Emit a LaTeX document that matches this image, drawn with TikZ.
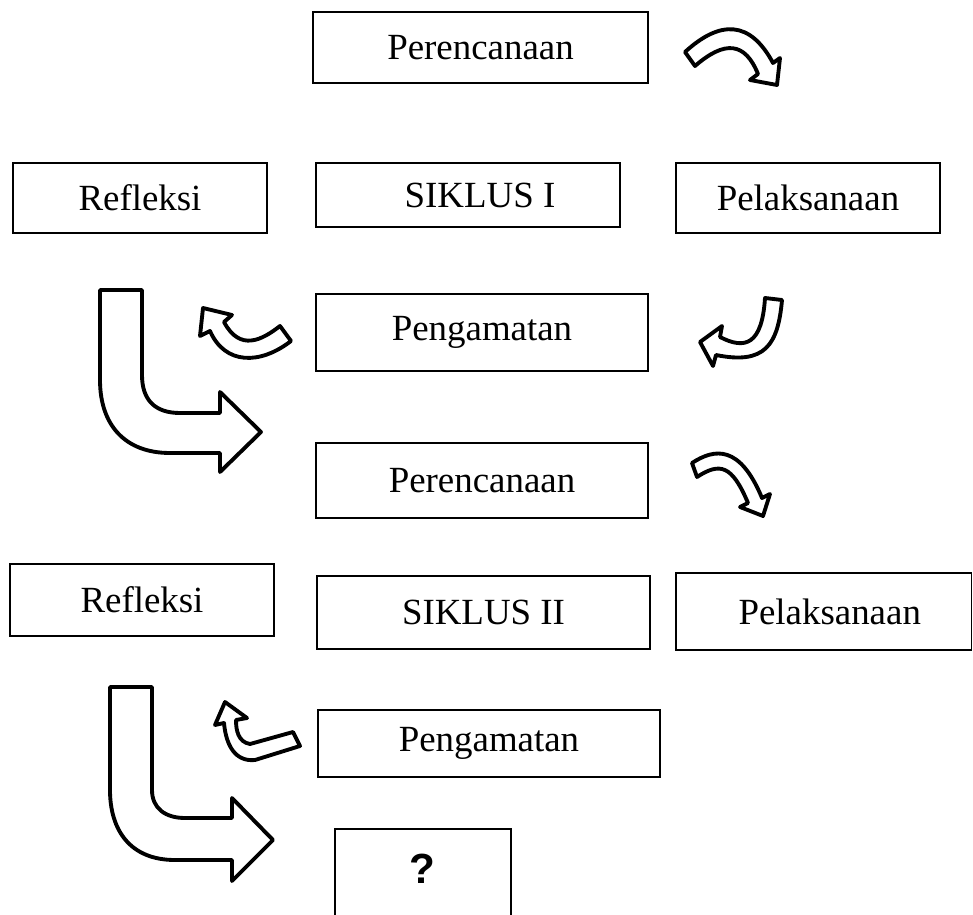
\documentclass[tikz,border=0pt]{standalone}
\usepackage{fontspec}
\setmainfont{Liberation Serif}
\setsansfont{Liberation Sans}
\usepackage{tikz}
\usetikzlibrary{positioning}

\tikzset{
  kotak/.style={draw, line width=1.1pt, inner sep=0pt, font=\fontsize{21}{25}\selectfont},
  panah/.style={draw, line width=2.2pt, fill=white, line join=round},
}

\begin{document}
\begin{tikzpicture}[x=0.02cm, y=-0.02cm]
    \clip (0,0) rectangle (973,915);
    \fill[white] (0,0) rectangle (973,915);
    % siklus I
    \node[kotak, minimum width=6.70cm, minimum height=1.42cm] (per1) at (480.5,47.5) {Perencanaan};
    \node[kotak, minimum width=5.08cm, minimum height=1.40cm] (ref1) at (140,198) {Refleksi};
    \node[kotak, minimum width=6.08cm, minimum height=1.28cm] (sik1) at (468,195) {\hspace{0.48cm}SIKLUS I};
    \node[kotak, minimum width=5.28cm, minimum height=1.40cm] (pel1) at (808,198) {Pelaksanaan};
    \node[kotak, minimum width=6.64cm, minimum height=1.54cm] (pen1) at (482,332.5) {Pengamatan};
    % siklus II
    \node[kotak, minimum width=6.64cm, minimum height=1.50cm] (per2) at (482,480.5) {Perencanaan};
    \node[kotak, minimum width=5.28cm, minimum height=1.44cm] (ref2) at (142,600) {Refleksi};
    \node[kotak, minimum width=6.66cm, minimum height=1.46cm] (sik2) at (483.5,612.5) {SIKLUS II};
    \node[kotak, minimum width=5.91cm, minimum height=1.54cm] (pel2) at (823.75,611.5) {\hspace{0.24cm}Pelaksanaan};
    \node[kotak, minimum width=6.84cm, minimum height=1.34cm] (pen2) at (489,743.5) {Pengamatan};
    \draw[line width=1.1pt] (335,960) -- (335,829) -- (511,829) -- (511,960);
    \node[font=\fontsize{24}{28}\sffamily\bfseries] (tanya) at (422,869) {?};

    % panah kecil
    \draw[panah] (685,52) .. controls (720,20) and (750,20) .. (773,63) -- (780,58) -- (777,85)
        -- (750,80) -- (758,74) .. controls (745,42) and (725,40) .. (695,66) -- cycle;
    \draw[panah] (280,326) .. controls (262,340) and (240,352) .. (224,322) -- (232,315) -- (203,308)
        -- (200,336) -- (210,331) .. controls (225,365) and (260,365) .. (291,341) -- cycle;
    \draw[panah] (765,298) -- (782,300) .. controls (778,345) and (765,365) .. (716,355) -- (713,366)
        -- (700,342) -- (722,326) -- (720,337) .. controls (745,350) and (762,345) .. cycle;
    \draw[panah] (692,463) .. controls (715,448) and (740,445) .. (762,498) -- (770,494) -- (763,516)
        -- (740,507) -- (748,503) .. controls (732,465) and (720,462) .. (697,477) -- cycle;
    \draw[panah] (293,732) -- (250,744) .. controls (238,742) and (236,730) .. (236,720) -- (247,718)
        -- (225,702) -- (215,725) -- (224,723) .. controls (226,745) and (235,762) .. (255,760)
        -- (300,746) -- cycle;

    % panah besar
    \draw[panah] (100,290) -- (142,290) -- (142,375) .. controls (142,400) and (155,413) .. (180,413)
        -- (220,413) -- (220,392) -- (261,432) -- (220,472) -- (220,453) -- (170,453)
        .. controls (125,453) and (100,425) .. (100,380) -- cycle;
    \draw[panah] (110,687) -- (152,687) -- (152,790) .. controls (152,808) and (165,818) .. (185,818)
        -- (232,818) -- (232,798) -- (273,840) -- (232,881) -- (232,860) -- (175,860)
        .. controls (130,860) and (110,830) .. (110,790) -- cycle;
\end{tikzpicture}
\end{document}
